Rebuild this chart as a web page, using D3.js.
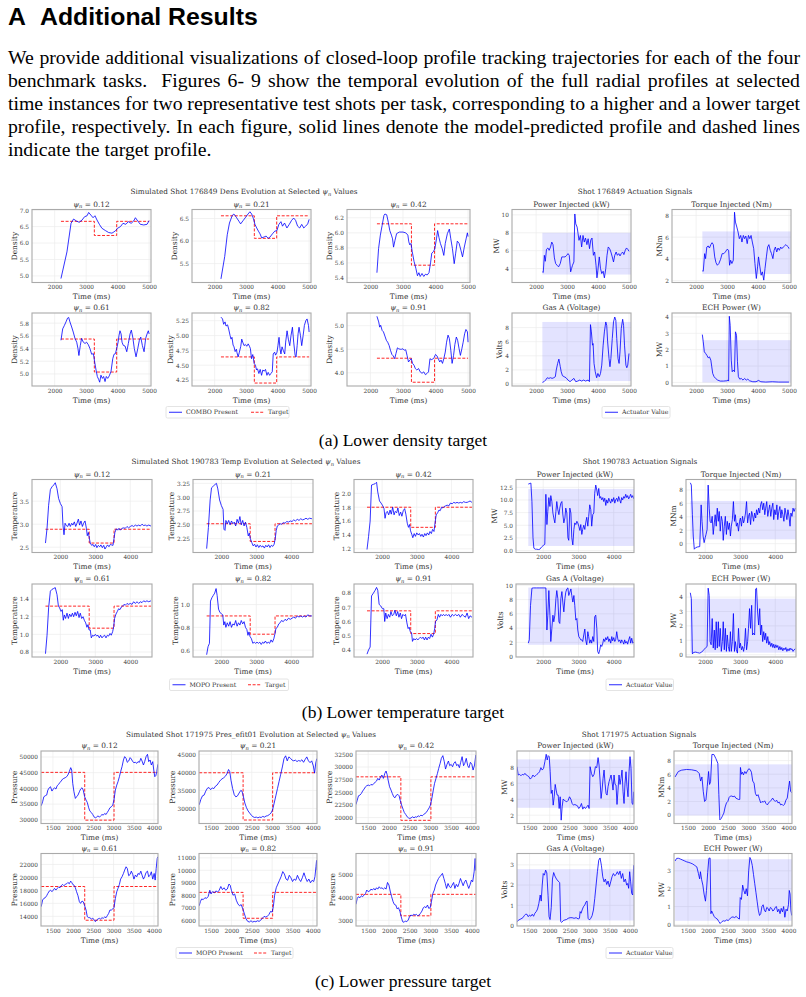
<!DOCTYPE html>
<html>
<head>
<meta charset="utf-8">
<script src="https://cdnjs.cloudflare.com/ajax/libs/d3/7.8.5/d3.min.js"></script>
<style>
  body { margin: 0; background: #fff; }
  svg { display: block; }
</style>
</head>
<body>
<script>
// ---------- TEXT ----------
const paraLines = [
  "We provide additional visualizations of closed-loop profile tracking trajectories for each of the four",
  "benchmark tasks.  Figures 6- 9 show the temporal evolution of the full radial profiles at selected",
  "time instances for two representative test shots per task, corresponding to a higher and a lower target",
  "profile, respectively. In each figure, solid lines denote the model-predicted profile and dashed lines",
  "indicate the target profile."
]
const captions = ["(a) Lower density target", "(b) Lower temperature target", "(c) Lower pressure target"]
const psiValues = ["0.12", "0.21", "0.42", "0.61", "0.82", "0.91"]
const actTitles = ["Power Injected (kW)", "Torque Injected (Nm)", "Gas A (Voltage)", "ECH Power (W)"]
const actUnits = ["MW", "MNm", "Volts", "MW"]

// ---------- (a) DENSITY, shot 176849 ----------
const aSteps = [3260, 3970]
const aDens012 = [[2200,4.92],[2390,5.73],[2520,6.60],[2600,6.73],[2690,6.67],[2780,6.63],[2870,6.70],[2950,6.80],[3030,6.83],[3080,6.93],[3150,6.85],[3220,6.77],[3280,6.83],[3345,6.70],[3420,6.57],[3500,6.45],[3610,6.38],[3715,6.32],[3820,6.30],[3930,6.37],[4000,6.45],[4090,6.50],[4170,6.60],[4260,6.57],[4340,6.65],[4430,6.60],[4510,6.67],[4565,6.77],[4640,6.67],[4720,6.57],[4830,6.55],[4935,6.57],[5000,6.68]]
const aDens021 = [[2200,5.16],[2320,5.66],[2400,6.14],[2470,6.40],[2560,6.57],[2610,6.60],[2685,6.53],[2770,6.44],[2825,6.38],[2910,6.46],[2985,6.53],[3060,6.60],[3120,6.65],[3175,6.60],[3230,6.50],[3280,6.37],[3335,6.29],[3390,6.22],[3440,6.16],[3495,6.07],[3570,6.09],[3635,6.11],[3700,6.06],[3760,6.09],[3835,6.16],[3910,6.22],[3975,6.23],[4040,6.37],[4105,6.43],[4155,6.33],[4220,6.40],[4295,6.29],[4370,6.37],[4445,6.46],[4510,6.51],[4570,6.46],[4635,6.33],[4700,6.29],[4765,6.37],[4830,6.29],[4890,6.33],[4955,6.38],[5000,6.48]]
const aDens042 = [[2200,5.47],[2250,5.79],[2305,5.97],[2360,6.10],[2415,6.23],[2445,6.25],[2500,6.24],[2550,6.14],[2595,6.03],[2645,5.97],[2680,5.92],[2710,5.81],[2755,5.90],[2805,5.99],[2890,6.01],[3000,6.01],[3085,6.00],[3150,5.97],[3180,5.88],[3210,5.84],[3245,5.86],[3285,5.75],[3340,5.62],[3395,5.53],[3445,5.43],[3490,5.47],[3530,5.42],[3585,5.46],[3640,5.42],[3690,5.45],[3745,5.44],[3800,5.47],[3850,5.61],[3885,5.73],[3935,5.75],[3980,5.79],[4030,5.92],[4065,6.03],[4105,5.94],[4150,5.86],[4205,5.79],[4255,5.70],[4300,5.86],[4365,5.99],[4425,6.05],[4470,5.92],[4520,5.79],[4575,5.59],[4620,5.73],[4670,5.89],[4725,5.86],[4780,5.77],[4830,5.68],[4885,5.81],[4940,5.92],[4980,6.00],[5000,5.95]]
const aDens061 = [[2200,5.53],[2255,5.71],[2305,5.76],[2360,5.82],[2410,5.88],[2445,5.89],[2485,5.82],[2540,5.74],[2590,5.66],[2645,5.56],[2700,5.50],[2740,5.40],[2770,5.29],[2815,5.45],[2855,5.56],[2910,5.50],[2965,5.48],[3015,5.50],[3070,5.46],[3120,5.40],[3175,5.31],[3230,5.32],[3270,5.19],[3315,5.06],[3355,4.96],[3400,4.91],[3430,4.87],[3470,4.98],[3515,4.93],[3555,4.96],[3600,4.88],[3640,4.96],[3685,4.93],[3735,4.97],[3790,5.04],[3845,5.24],[3885,5.31],[3930,5.32],[3970,5.40],[4015,5.50],[4045,5.61],[4075,5.68],[4110,5.63],[4140,5.50],[4180,5.45],[4235,5.44],[4290,5.35],[4340,5.48],[4395,5.63],[4435,5.69],[4480,5.58],[4530,5.40],[4585,5.27],[4640,5.40],[4690,5.53],[4735,5.58],[4785,5.45],[4840,5.35],[4890,5.56],[4935,5.63],[4975,5.68],[5000,5.63]]
const aDens082 = [[2200,5.31],[2250,5.28],[2285,5.19],[2330,5.23],[2360,5.16],[2410,5.18],[2445,5.11],[2490,5.00],[2520,4.94],[2550,4.97],[2585,4.84],[2615,4.81],[2650,4.73],[2690,4.77],[2710,4.71],[2745,4.64],[2785,4.72],[2830,4.82],[2860,4.94],[2890,4.89],[2935,4.83],[2975,4.85],[3020,4.82],[3065,4.86],[3105,4.82],[3135,4.78],[3170,4.61],[3210,4.68],[3255,4.53],[3295,4.50],[3330,4.42],[3360,4.44],[3405,4.36],[3445,4.43],[3490,4.33],[3530,4.42],[3575,4.40],[3615,4.43],[3660,4.33],[3700,4.38],[3745,4.33],[3785,4.36],[3830,4.39],[3860,4.69],[3905,4.72],[3935,4.67],[3980,4.72],[4010,4.83],[4045,4.97],[4075,4.78],[4105,4.69],[4140,4.81],[4180,4.75],[4225,4.69],[4255,4.89],[4300,5.08],[4340,4.94],[4385,4.83],[4425,5.00],[4470,5.14],[4510,4.89],[4555,4.67],[4585,4.64],[4620,4.83],[4650,5.03],[4680,5.14],[4725,5.00],[4765,4.83],[4810,5.00],[4850,5.17],[4895,5.25],[4935,5.28],[4980,5.17],[5000,5.06]]
const aDens091 = [[2200,5.20],[2255,5.08],[2285,4.97],[2315,5.01],[2360,4.90],[2400,4.87],[2445,4.78],[2490,4.69],[2530,4.65],[2575,4.58],[2615,4.48],[2660,4.39],[2700,4.36],[2745,4.30],[2785,4.41],[2830,4.53],[2870,4.51],[2915,4.50],[2955,4.50],[3000,4.51],[3040,4.48],[3085,4.49],[3125,4.37],[3170,4.23],[3210,4.27],[3255,4.30],[3295,4.20],[3340,4.16],[3380,4.09],[3425,4.06],[3480,4.09],[3530,4.02],[3585,3.99],[3640,4.02],[3690,3.96],[3745,3.99],[3785,4.02],[3830,4.30],[3870,4.28],[3915,4.29],[3955,4.32],[4000,4.39],[4045,4.36],[4085,4.30],[4130,4.23],[4170,4.27],[4215,4.20],[4255,4.30],[4300,4.44],[4340,4.65],[4385,4.80],[4425,4.73],[4470,4.48],[4510,4.20],[4555,4.37],[4595,4.60],[4640,4.76],[4680,4.69],[4725,4.51],[4765,4.37],[4810,4.51],[4850,4.65],[4895,4.83],[4935,4.92],[4980,4.87],[5000,4.65]]
const aTargets = [[6.66,6.23,6.66],[6.56,6.06,6.56],[6.12,5.57,6.12],[5.55,5.03,5.55],[4.64,4.20,4.64],[4.31,3.80,4.31]]

const aPower = [[2200,3.63],[2230,3.56],[2265,5.48],[2295,4.81],[2335,6.15],[2380,6.30],[2420,6.04],[2465,6.41],[2505,6.96],[2545,6.67],[2590,5.19],[2630,4.56],[2675,4.37],[2725,4.19],[2780,4.56],[2830,5.30],[2885,5.30],[2935,5.30],[2990,5.48],[3030,5.67],[3070,5.48],[3115,3.63],[3145,4.00],[3175,4.37],[3220,4.74],[3250,10.1],[3280,9.0],[3325,8.63],[3355,7.89],[3385,7.15],[3430,7.70],[3470,6.41],[3515,7.70],[3555,6.96],[3595,7.41],[3640,6.67],[3680,7.33],[3725,6.22],[3765,7.19],[3805,7.41],[3850,5.48],[3890,5.85],[3935,4.37],[3965,2.96],[3995,3.81],[4040,5.30],[4080,4.00],[4120,3.44],[4165,3.70],[4205,2.96],[4250,4.00],[4290,5.48],[4330,6.41],[4375,6.22],[4415,5.85],[4460,5.30],[4500,4.74],[4540,5.48],[4585,5.85],[4625,5.48],[4670,5.67],[4710,5.41],[4750,5.67],[4795,5.85],[4835,5.56],[4880,6.04],[4920,6.30],[4960,6.15],[5000,5.93]]
const aTorque = [[2200,2.89],[2230,2.86],[2275,4.48],[2305,4.02],[2345,5.09],[2390,5.19],[2430,5.00],[2475,5.31],[2515,5.49],[2555,5.31],[2600,4.18],[2640,3.66],[2685,3.41],[2735,3.57],[2790,3.96],[2840,4.48],[2895,4.48],[2945,4.64],[3000,4.88],[3050,4.79],[3080,3.41],[3115,3.87],[3155,3.57],[3200,3.87],[3240,8.3],[3270,7.39],[3315,6.93],[3355,6.47],[3395,5.86],[3440,6.16],[3480,5.55],[3525,6.16],[3565,5.86],[3605,6.10],[3650,5.40],[3690,6.16],[3735,5.86],[3775,6.16],[3815,5.55],[3860,4.94],[3900,3.57],[3945,2.19],[3985,3.26],[4015,4.18],[4060,3.26],[4100,2.49],[4140,2.80],[4185,2.04],[4225,3.11],[4270,4.18],[4310,5.09],[4350,5.31],[4395,4.79],[4435,4.48],[4480,4.02],[4520,4.79],[4560,5.09],[4605,4.64],[4645,5.00],[4690,4.79],[4730,5.09],[4770,4.94],[4815,5.09],[4855,5.19],[4900,5.31],[4940,5.19],[4980,5.09],[5000,4.94]]
const aGas = [[2200,0.24],[2255,0.33],[2305,0.56],[2360,0.89],[2410,0.80],[2465,0.89],[2515,0.80],[2570,0.89],[2620,1.04],[2650,1.98],[2695,2.92],[2735,3.53],[2780,2.45],[2810,1.74],[2850,1.18],[2905,1.04],[2965,0.89],[3030,0.56],[3095,0.33],[3155,0.56],[3220,0.80],[3280,0.33],[3345,0.42],[3410,0.56],[3470,0.42],[3535,0.56],[3595,0.42],[3680,0.56],[3722,0.33],[3755,8.42],[3785,7.39],[3820,5.51],[3840,5.74],[3870,2.92],[3910,1.74],[3955,0.89],[3995,1.50],[4040,1.04],[4080,1.50],[4120,2.68],[4165,5.51],[4205,7.39],[4250,8.80],[4280,8.33],[4310,5.98],[4355,3.62],[4385,2.45],[4415,3.62],[4460,6.45],[4500,8.80],[4540,9.50],[4575,9.04],[4605,6.45],[4645,3.62],[4680,2.92],[4710,4.56],[4750,7.86],[4795,9.18],[4825,8.33],[4855,5.51],[4900,2.68],[4930,2.31],[4960,2.68],[5000,4.33]]
const aEch = [[2200,2.92],[2230,2.48],[2265,1.87],[2305,1.77],[2345,1.66],[2390,1.50],[2430,1.56],[2475,1.36],[2505,0.95],[2535,0.55],[2580,0.35],[2630,0.24],[2695,0.14],[2780,0.08],[2885,0.08],[2990,0.10],[3030,0.14],[3050,0.08],[3072,4.04],[3100,3.49],[3135,1.36],[3165,0.65],[3200,0.75],[3240,0.65],[3270,3.09],[3305,2.88],[3335,1.26],[3365,0.35],[3410,0.20],[3460,0.24],[3515,0.14],[3565,0.24],[3620,0.14],[3670,0.20],[3725,0.10],[3830,0.04],[3935,0.04],[4015,0.12],[4090,0.04],[4250,0.02],[4460,0.04],[4670,0.02],[5000,0.02]]
const aBands = [[3.33,8.0],[2.6,6.53],[0.42,8.8],[0.0,2.58]]

// ---------- (b) TEMPERATURE, shot 190783 ----------
const bSteps = [2825, 3535]
const bTemp012 = [[1575,2.59],[1620,2.91],[1665,3.41],[1715,3.75],[1760,3.81],[1810,3.85],[1855,3.90],[1905,3.77],[1950,3.56],[2000,3.45],[2050,3.38],[2075,2.98],[2105,2.77],[2135,3.02],[2170,2.97],[2210,2.95],[2250,3.02],[2285,2.95],[2325,3.02],[2360,2.98],[2400,3.05],[2440,2.95],[2475,3.02],[2515,3.11],[2550,2.98],[2590,3.07],[2630,2.95],[2665,3.02],[2705,3.07],[2745,2.91],[2770,2.75],[2800,2.82],[2830,2.69],[2855,2.59],[2895,2.54],[2935,2.56],[2970,2.51],[3010,2.56],[3045,2.49],[3085,2.54],[3125,2.51],[3160,2.55],[3200,2.49],[3240,2.54],[3275,2.46],[3315,2.51],[3350,2.55],[3390,2.51],[3430,2.56],[3465,2.55],[3505,2.54],[3535,2.69],[3560,2.82],[3600,2.90],[3640,2.87],[3675,2.91],[3715,2.87],[3760,2.91],[3810,2.92],[3855,2.91],[3905,2.95],[3950,2.92],[4000,2.95],[4050,2.97],[4095,2.95],[4145,2.98],[4190,2.96],[4240,2.98],[4285,2.96],[4335,3.00],[4380,2.97],[4430,2.98],[4475,2.96],[4525,2.98],[4590,2.96]]
const bTemp021 = [[1580,2.07],[1630,2.45],[1680,2.95],[1720,3.17],[1770,3.20],[1820,3.23],[1860,3.25],[1900,3.15],[1950,2.95],[2000,2.85],[2050,2.78],[2075,2.42],[2105,2.40],[2130,2.58],[2170,2.52],[2210,2.58],[2250,2.50],[2290,2.57],[2330,2.52],[2370,2.55],[2410,2.48],[2450,2.60],[2490,2.53],[2530,2.65],[2570,2.50],[2610,2.58],[2650,2.48],[2690,2.55],[2730,2.45],[2770,2.30],[2800,2.35],[2830,2.25],[2870,2.18],[2910,2.12],[2950,2.15],[2990,2.10],[3030,2.14],[3070,2.09],[3110,2.13],[3150,2.10],[3190,2.12],[3230,2.08],[3270,2.13],[3310,2.10],[3350,2.14],[3390,2.09],[3430,2.13],[3470,2.11],[3510,2.15],[3540,2.25],[3570,2.40],[3600,2.48],[3640,2.50],[3680,2.52],[3720,2.51],[3770,2.54],[3820,2.53],[3870,2.56],[3920,2.55],[3970,2.57],[4020,2.56],[4070,2.59],[4120,2.57],[4170,2.60],[4220,2.58],[4270,2.61],[4320,2.59],[4370,2.60],[4420,2.62],[4470,2.60],[4520,2.62],[4590,2.61]]
const bTemp042 = [[1565,1.19],[1610,1.38],[1655,1.60],[1695,2.12],[1750,2.13],[1800,2.14],[1840,2.16],[1875,2.02],[1925,1.89],[1970,1.86],[2020,1.82],[2055,1.78],[2085,1.64],[2115,1.72],[2150,1.74],[2190,1.69],[2230,1.76],[2265,1.70],[2305,1.80],[2345,1.69],[2380,1.74],[2420,1.72],[2455,1.79],[2495,1.68],[2535,1.73],[2570,1.67],[2610,1.75],[2650,1.78],[2685,1.70],[2725,1.57],[2760,1.51],[2790,1.55],[2820,1.46],[2855,1.41],[2885,1.36],[2925,1.42],[2960,1.38],[3000,1.43],[3040,1.40],[3075,1.42],[3115,1.38],[3150,1.41],[3190,1.37],[3230,1.42],[3265,1.39],[3305,1.43],[3345,1.40],[3380,1.45],[3420,1.42],[3455,1.48],[3495,1.45],[3525,1.57],[3560,1.69],[3600,1.72],[3640,1.76],[3675,1.75],[3715,1.80],[3750,1.79],[3790,1.81],[3830,1.82],[3875,1.83],[3925,1.82],[3970,1.86],[4020,1.85],[4065,1.87],[4115,1.86],[4160,1.87],[4210,1.86],[4255,1.87],[4305,1.86],[4350,1.88],[4400,1.87],[4450,1.87],[4495,1.88],[4535,1.89],[4590,1.87]]
const bTemp061 = [[1575,0.78],[1620,0.99],[1665,1.30],[1715,1.49],[1760,1.51],[1810,1.52],[1855,1.53],[1905,1.45],[1945,1.32],[1980,1.30],[2020,1.26],[2055,1.28],[2085,1.16],[2115,1.22],[2150,1.18],[2190,1.24],[2230,1.18],[2265,1.23],[2305,1.20],[2345,1.24],[2380,1.20],[2420,1.25],[2455,1.21],[2495,1.26],[2535,1.19],[2570,1.24],[2610,1.18],[2650,1.20],[2685,1.16],[2725,1.13],[2760,1.08],[2790,1.11],[2820,1.05],[2855,1.05],[2885,0.96],[2925,0.99],[2960,0.98],[3000,1.00],[3040,0.98],[3075,0.99],[3115,0.96],[3150,0.99],[3190,0.96],[3230,0.98],[3265,0.99],[3305,0.96],[3345,0.99],[3380,0.98],[3420,1.01],[3455,0.99],[3495,1.03],[3525,1.09],[3550,1.18],[3590,1.23],[3630,1.26],[3665,1.29],[3705,1.28],[3745,1.31],[3780,1.32],[3820,1.34],[3855,1.33],[3905,1.35],[3950,1.34],[4000,1.35],[4050,1.34],[4095,1.37],[4145,1.35],[4190,1.37],[4240,1.35],[4285,1.37],[4335,1.36],[4380,1.38],[4430,1.37],[4475,1.38],[4525,1.37],[4590,1.38]]
const bTemp082 = [[1580,0.56],[1620,0.63],[1660,0.66],[1690,1.03],[1730,1.06],[1770,1.08],[1810,1.10],[1850,1.14],[1880,1.08],[1920,0.96],[1960,0.93],[2000,0.92],[2040,0.91],[2070,0.82],[2100,0.85],[2130,0.80],[2170,0.84],[2210,0.81],[2250,0.85],[2290,0.80],[2330,0.83],[2370,0.82],[2410,0.86],[2450,0.81],[2490,0.84],[2530,0.82],[2570,0.86],[2610,0.83],[2650,0.85],[2690,0.80],[2730,0.78],[2760,0.73],[2790,0.76],[2820,0.72],[2860,0.70],[2900,0.66],[2940,0.67],[2980,0.66],[3020,0.67],[3060,0.66],[3100,0.67],[3140,0.65],[3180,0.67],[3220,0.66],[3260,0.68],[3300,0.66],[3340,0.67],[3380,0.66],[3420,0.69],[3460,0.67],[3500,0.70],[3530,0.74],[3560,0.79],[3600,0.80],[3640,0.83],[3680,0.84],[3720,0.86],[3770,0.85],[3820,0.87],[3870,0.86],[3920,0.88],[3970,0.87],[4020,0.88],[4070,0.89],[4120,0.88],[4170,0.90],[4220,0.89],[4270,0.90],[4320,0.89],[4370,0.90],[4420,0.89],[4470,0.91],[4520,0.90],[4590,0.90]]
const bTemp091 = [[1565,0.37],[1610,0.40],[1655,0.42],[1695,0.78],[1750,0.80],[1800,0.82],[1840,0.84],[1875,0.82],[1915,0.72],[1960,0.71],[2010,0.69],[2050,0.69],[2075,0.60],[2105,0.66],[2145,0.62],[2180,0.65],[2220,0.63],[2255,0.67],[2295,0.64],[2335,0.65],[2370,0.68],[2410,0.64],[2450,0.67],[2485,0.63],[2525,0.66],[2560,0.62],[2600,0.65],[2640,0.64],[2675,0.65],[2715,0.59],[2750,0.55],[2780,0.56],[2810,0.53],[2850,0.52],[2875,0.46],[2915,0.48],[2950,0.47],[2990,0.48],[3030,0.47],[3065,0.48],[3105,0.49],[3145,0.48],[3180,0.49],[3220,0.47],[3255,0.49],[3295,0.47],[3335,0.49],[3370,0.48],[3410,0.51],[3450,0.49],[3485,0.51],[3515,0.55],[3540,0.60],[3580,0.61],[3620,0.65],[3655,0.63],[3695,0.65],[3735,0.64],[3770,0.65],[3810,0.64],[3845,0.65],[3885,0.64],[3925,0.65],[3970,0.63],[4020,0.65],[4065,0.64],[4115,0.65],[4160,0.64],[4210,0.65],[4255,0.63],[4305,0.65],[4350,0.64],[4400,0.63],[4450,0.66],[4495,0.62],[4535,0.64],[4590,0.63]]
const bTargets = [[2.89,2.59,2.89],[2.52,2.20,2.52],[1.80,1.51,1.80],[1.32,1.07,1.32],[0.90,0.74,0.90],[0.675,0.515,0.675]]

const bPower = [[1576,13.15],[1625,13.28],[1650,13.35],[1680,9.7],[1710,2.54],[1735,0.46],[1775,0.26],[1810,0.26],[1870,0.20],[1905,0.26],[1955,0.72],[2000,0.98],[2045,1.24],[2075,11.13],[2105,5.14],[2130,7.75],[2160,10.48],[2190,8.72],[2215,10.87],[2245,9.7],[2275,7.42],[2300,6.45],[2330,5.47],[2360,7.75],[2385,9.7],[2415,8.07],[2445,7.10],[2470,8.40],[2500,9.38],[2530,9.70],[2555,7.23],[2585,5.47],[2615,6.45],[2640,8.40],[2670,7.42],[2700,2.54],[2725,2.02],[2755,8.40],[2785,7.42],[2810,2.54],[2840,1.11],[2870,4.17],[2895,5.47],[2925,5.14],[2955,5.79],[2980,5.47],[3010,4.82],[3040,3.97],[3065,5.14],[3095,3.19],[3120,4.17],[3150,5.01],[3180,4.17],[3205,5.47],[3235,6.58],[3265,4.82],[3290,6.77],[3320,9.05],[3350,8.07],[3375,4.82],[3405,7.10],[3435,7.42],[3460,11.33],[3490,12.96],[3520,11.98],[3545,10.87],[3575,12.30],[3605,10.35],[3630,10.68],[3660,10.03],[3690,10.48],[3715,9.70],[3745,10.35],[3775,8.92],[3800,10.03],[3830,9.38],[3860,10.35],[3885,9.83],[3915,9.38],[3945,10.22],[3970,9.70],[4000,10.48],[4030,9.38],[4055,10.03],[4085,10.35],[4115,9.70],[4140,10.68],[4170,10.03],[4200,9.38],[4225,10.48],[4255,10.03],[4285,10.68],[4310,10.35],[4340,11.13],[4370,10.48],[4395,10.87],[4425,10.22],[4455,10.68],[4480,11.13],[4510,10.48],[4540,10.87],[4570,10.22]]
const bTorque = [[1576,9.07],[1605,8.73],[1635,4.31],[1660,1.13],[1690,-0.83],[1730,-0.59],[1785,-0.49],[1845,-0.44],[1885,5.78],[1910,3.33],[1940,1.13],[1970,0.15],[2000,0.88],[2025,1.37],[2055,2.11],[2085,8.73],[2115,5.29],[2140,3.33],[2170,3.09],[2200,4.07],[2230,1.37],[2260,3.09],[2285,4.31],[2315,2.60],[2345,5.29],[2375,3.33],[2400,4.80],[2430,1.86],[2460,4.07],[2490,3.33],[2515,0.49],[2545,2.60],[2575,4.07],[2605,1.37],[2630,3.33],[2660,2.11],[2690,3.09],[2720,1.13],[2745,2.60],[2775,3.58],[2805,6.27],[2835,3.33],[2860,4.31],[2890,2.60],[2920,3.09],[2950,1.86],[2980,3.33],[3005,3.82],[3035,2.60],[3065,4.07],[3095,3.09],[3120,3.58],[3150,4.56],[3180,6.27],[3210,3.09],[3235,4.07],[3265,4.56],[3295,2.84],[3325,4.80],[3350,4.31],[3380,3.33],[3410,4.56],[3440,3.82],[3465,5.05],[3495,4.31],[3525,5.29],[3555,4.56],[3580,5.78],[3610,6.27],[3640,5.05],[3670,6.03],[3700,4.31],[3725,5.29],[3755,6.27],[3785,4.07],[3815,5.05],[3840,5.78],[3870,4.07],[3900,5.29],[3930,6.03],[3955,3.58],[3985,5.05],[4015,4.31],[4045,5.78],[4070,3.58],[4100,4.80],[4130,5.54],[4160,3.82],[4185,5.05],[4215,4.31],[4245,3.33],[4275,5.29],[4300,4.56],[4330,3.58],[4360,5.05],[4390,4.07],[4420,2.60],[4445,4.56],[4475,4.07],[4505,5.29],[4535,4.80],[4570,5.29]]
const bGas = [[1576,1.89],[1605,2.35],[1640,7.19],[1680,9.59],[1720,9.63],[1810,9.63],[1905,9.63],[2000,9.63],[2075,9.63],[2105,3.73],[2130,5.81],[2160,9.26],[2190,5.81],[2215,2.12],[2245,3.96],[2275,5.81],[2300,4.88],[2330,5.81],[2360,8.11],[2385,9.26],[2415,8.11],[2445,4.88],[2470,4.65],[2500,8.11],[2530,9.12],[2555,7.65],[2585,6.27],[2615,8.11],[2640,9.03],[2670,9.49],[2700,9.63],[2725,8.57],[2755,9.03],[2785,9.49],[2810,8.57],[2840,7.65],[2870,8.57],[2895,7.19],[2925,5.12],[2955,5.35],[2980,3.73],[3010,2.81],[3040,2.58],[3065,2.35],[3095,2.35],[3120,2.12],[3150,3.04],[3180,3.87],[3205,2.35],[3235,1.66],[3265,3.50],[3290,2.81],[3320,1.89],[3350,2.35],[3375,1.89],[3405,2.81],[3435,2.12],[3460,5.58],[3490,5.81],[3520,3.96],[3545,0.74],[3575,0.41],[3605,0.97],[3630,1.66],[3660,1.43],[3690,1.89],[3715,2.49],[3745,2.12],[3775,2.67],[3800,2.35],[3830,2.81],[3860,2.12],[3885,2.49],[3915,1.89],[3945,2.81],[3970,2.21],[4000,2.67],[4030,2.12],[4055,2.35],[4085,3.50],[4115,2.49],[4140,2.12],[4170,2.35],[4200,1.89],[4225,2.35],[4255,2.12],[4285,1.75],[4310,2.35],[4340,1.89],[4370,2.12],[4395,1.75],[4425,2.35],[4455,2.81],[4480,1.89],[4510,2.58],[4540,1.89],[4570,2.03]]
const bEch = [[1576,4.30],[1605,3.89],[1635,0.05],[1670,0.16],[1730,0.18],[1785,0.14],[1845,0.11],[1900,0.18],[1960,0.34],[2020,0.50],[2055,0.57],[2085,4.62],[2115,4.11],[2140,0.91],[2170,0.69],[2200,2.51],[2230,0.46],[2260,1.71],[2285,0.34],[2315,2.29],[2345,0.46],[2375,2.29],[2400,0.57],[2430,1.83],[2460,0.23],[2490,0.91],[2515,2.29],[2545,0.34],[2575,1.83],[2605,0.23],[2630,1.37],[2660,0.57],[2690,0.23],[2720,1.60],[2745,0.23],[2775,0.91],[2805,2.86],[2835,0.23],[2860,0.91],[2890,0.34],[2920,0.11],[2950,1.83],[2980,0.46],[3005,0.80],[3035,0.34],[3065,0.57],[3095,0.23],[3120,0.57],[3150,1.83],[3180,0.34],[3210,0.91],[3235,1.83],[3265,3.20],[3295,1.83],[3325,3.43],[3350,1.37],[3380,1.49],[3410,1.37],[3440,4.57],[3465,4.62],[3495,2.97],[3525,2.06],[3555,3.20],[3580,1.37],[3610,2.06],[3640,0.91],[3670,1.60],[3700,1.03],[3725,1.49],[3755,0.80],[3785,1.26],[3815,0.69],[3840,0.91],[3870,0.57],[3900,0.80],[3930,0.50],[3955,0.73],[3985,0.46],[4015,0.69],[4045,0.50],[4070,0.64],[4100,0.34],[4130,0.57],[4160,0.34],[4185,0.50],[4215,0.27],[4245,0.46],[4275,0.34],[4300,0.50],[4330,0.23],[4360,0.41],[4390,0.27],[4420,0.46],[4445,0.34],[4475,0.41],[4505,0.23],[4535,0.34],[4570,0.41]]
const bBands = [[0.9,12.2],[0.64,6.37],[1.66,9.68],[0.14,3.89]]

// ---------- (c) PRESSURE, shot 171975 ----------
const cSteps = [2287, 3012]
const cPres012 = [[1210,34470],[1245,35740],[1275,37340],[1310,37660],[1345,37870],[1375,39470],[1410,40210],[1440,40530],[1475,39150],[1510,39790],[1540,40210],[1575,39790],[1605,40850],[1640,41280],[1675,41910],[1705,42340],[1740,42980],[1770,43190],[1805,43400],[1840,43720],[1870,44260],[1905,45320],[1940,46600],[1965,45850],[1990,41600],[2020,38930],[2055,36810],[2085,37340],[2120,37870],[2155,38930],[2185,39790],[2220,40210],[2250,39470],[2285,37340],[2320,36270],[2350,35530],[2385,33830],[2415,32760],[2450,32340],[2485,31700],[2515,30960],[2550,30640],[2580,30850],[2615,31270],[2650,30850],[2680,31270],[2715,31700],[2745,31490],[2780,32020],[2815,31700],[2845,32340],[2880,33080],[2910,33830],[2945,34150],[2980,34680],[3010,36270],[3045,39470],[3080,41060],[3110,42130],[3145,43720],[3175,45320],[3210,46910],[3245,49040],[3275,50110],[3310,49570],[3340,48300],[3375,48720],[3410,49790],[3440,49360],[3475,48510],[3505,48190],[3540,48300],[3575,47980],[3605,48510],[3640,48300],[3675,49570],[3705,48720],[3740,47450],[3770,48510],[3805,50110],[3840,50850],[3870,48510],[3905,49040],[3935,47450],[3970,48510],[3995,45850],[4020,43720],[4045,44050],[4070,45320],[4095,47660]]
const cPres021 = [[1210,31000],[1250,32500],[1290,33500],[1330,33700],[1370,34800],[1410,35600],[1450,35800],[1490,35200],[1530,35700],[1570,35500],[1610,36200],[1650,36500],[1690,37200],[1730,37800],[1770,38200],[1810,38500],[1850,38900],[1890,39600],[1930,40800],[1960,40200],[1990,37800],[2030,35500],[2070,33800],[2110,33200],[2150,33500],[2190,34300],[2230,35000],[2260,34800],[2290,33500],[2330,31500],[2370,30200],[2410,29300],[2450,28700],[2490,28100],[2530,27700],[2570,27500],[2610,27600],[2650,27400],[2690,27600],[2730,27500],[2770,27800],[2810,27600],[2850,27900],[2890,28000],[2930,28300],[2970,28700],[3010,29600],[3050,31500],[3090,33500],[3130,35500],[3170,37500],[3210,39500],[3250,41500],[3290,43800],[3330,44600],[3370,43200],[3410,44300],[3450,43900],[3490,43400],[3530,43200],[3570,43400],[3610,43000],[3650,43300],[3690,43100],[3730,43500],[3770,42800],[3810,43600],[3850,44300],[3890,43200],[3930,42700],[3970,43200],[4010,41800],[4040,39800],[4070,42600],[4095,43800]]
const cPres042 = [[1205,22580],[1235,23440],[1265,24300],[1300,24430],[1335,24770],[1365,25230],[1400,25630],[1435,26090],[1465,26290],[1500,26420],[1535,26290],[1565,26550],[1600,26420],[1635,26750],[1665,26950],[1700,27210],[1730,27740],[1765,27410],[1800,28070],[1830,28400],[1865,27740],[1900,28730],[1930,29200],[1955,28530],[1980,27410],[2015,26090],[2050,25430],[2080,24770],[2115,24100],[2145,23910],[2180,24430],[2215,24570],[2245,24300],[2270,23440],[2305,22450],[2340,21660],[2370,21000],[2405,20600],[2440,20140],[2470,19940],[2505,19810],[2535,19940],[2570,20140],[2605,19940],[2635,20140],[2670,20070],[2705,20340],[2735,20210],[2770,20470],[2805,20340],[2835,20600],[2870,20800],[2900,21000],[2935,21460],[2970,21920],[3000,22450],[3035,23770],[3070,25430],[3100,26750],[3135,27740],[3170,28730],[3200,29720],[3235,30720],[3265,31710],[3300,32240],[3335,31050],[3365,29590],[3400,30520],[3435,31180],[3465,30250],[3500,30520],[3535,30050],[3565,30720],[3600,31050],[3635,30250],[3665,30520],[3700,29860],[3730,30920],[3765,32040],[3800,30250],[3830,30720],[3865,31710],[3900,30250],[3930,29860],[3965,30920],[4000,30520],[4030,29390],[4065,30380],[4095,32370]]
const cPres061 = [[1210,15490],[1245,16510],[1275,16770],[1310,16870],[1345,17180],[1375,17540],[1410,17900],[1440,18050],[1475,17800],[1510,18050],[1540,18310],[1575,18050],[1605,18310],[1640,18510],[1675,18410],[1705,18720],[1740,18920],[1770,18720],[1805,18920],[1840,19020],[1870,19230],[1905,19020],[1940,19430],[1965,19230],[1990,18920],[2020,18820],[2055,18410],[2085,17800],[2120,17180],[2155,16250],[2185,16000],[2220,16360],[2250,16250],[2285,15640],[2320,14970],[2350,13950],[2385,13790],[2415,13790],[2450,13590],[2485,13690],[2515,13540],[2550,13180],[2580,13430],[2615,13590],[2650,13690],[2680,13590],[2715,13790],[2745,13690],[2780,13900],[2815,13790],[2845,14100],[2880,14460],[2910,14970],[2945,14970],[2980,15130],[3010,15330],[3045,16770],[3080,17800],[3110,18310],[3145,18920],[3175,19740],[3210,20100],[3245,20610],[3275,21130],[3310,21640],[3340,21380],[3375,20260],[3410,20460],[3440,20970],[3475,20460],[3505,19740],[3540,20360],[3575,20100],[3605,20610],[3640,20460],[3675,20970],[3705,20360],[3740,19740],[3770,20100],[3805,20770],[3840,20970],[3870,20100],[3905,20360],[3935,20870],[3970,19740],[4005,20610],[4030,19590],[4055,21380],[4080,22920],[4095,23180]]
const cPres082 = [[1210,7150],[1240,7500],[1270,7700],[1310,7650],[1350,7800],[1390,7750],[1430,7900],[1470,8400],[1500,8100],[1540,8300],[1580,8200],[1620,8350],[1660,8250],[1700,8400],[1740,8700],[1780,8450],[1820,8600],[1860,8400],[1900,8500],[1940,8900],[1970,8800],[2000,8400],[2040,8000],[2080,8100],[2120,7600],[2160,7300],[2200,7150],[2240,7250],[2280,6900],[2320,6500],[2360,6100],[2400,5900],[2440,5850],[2480,5950],[2520,5850],[2560,5900],[2600,5870],[2640,5950],[2680,5900],[2720,6000],[2760,6150],[2800,6300],[2840,6250],[2880,6300],[2920,6450],[2960,6700],[3000,6650],[3030,7100],[3060,8000],[3100,8600],[3140,8900],[3180,9200],[3220,9500],[3260,9900],[3300,9700],[3340,9300],[3380,9200],[3420,9600],[3460,9400],[3500,9100],[3540,9300],[3580,9200],[3620,9600],[3660,9300],[3700,9100],[3740,9400],[3780,9800],[3820,9400],[3860,9100],[3900,9300],[3940,9000],[3980,9200],[4020,9100],[4050,9500],[4075,10300],[4090,10800],[4100,10000]]
const cPres091 = [[1205,3710],[1235,3970],[1265,4045],[1300,4000],[1335,4090],[1365,4045],[1400,4120],[1435,4190],[1465,4340],[1500,4265],[1535,4295],[1565,4380],[1600,4340],[1635,4410],[1665,4340],[1700,4440],[1730,4380],[1765,4485],[1800,4410],[1830,4440],[1865,4380],[1900,4440],[1930,4380],[1965,4675],[2000,4560],[2030,4295],[2065,4045],[2100,3825],[2130,3705],[2165,3675],[2200,3500],[2230,3560],[2265,3385],[2295,3160],[2330,2940],[2365,2915],[2395,2970],[2430,2940],[2465,3015],[2495,3160],[2530,3235],[2560,3205],[2595,3265],[2630,3235],[2660,3265],[2695,3205],[2730,3235],[2760,3310],[2795,3410],[2830,3560],[2860,3600],[2895,3560],[2930,3675],[2960,3530],[2995,3560],[3025,3825],[3060,4190],[3095,4340],[3125,4560],[3160,4705],[3195,4850],[3225,4925],[3260,5000],[3290,5075],[3325,4850],[3360,4630],[3390,4410],[3425,4630],[3460,4485],[3490,4440],[3525,4560],[3560,4675],[3590,4410],[3625,4590],[3660,4485],[3690,4630],[3725,4850],[3755,4705],[3790,4530],[3825,4705],[3855,4780],[3890,4590],[3925,4410],[3955,4560],[3990,4780],[4020,4705],[4055,5145],[4080,5735],[4092,5200]]
const cTargets = [[45100,29900,45100],[39900,26800,39900],[28050,19450,28050],[18600,13400,18600],[8230,6150,8230],[4150,3200,4150]]

const cPower = [[1187,8.08],[1218,7.04],[1252,7.12],[1285,6.95],[1318,7.12],[1351,7.04],[1384,7.25],[1417,7.04],[1450,6.95],[1483,6.83],[1517,6.53],[1550,6.70],[1583,7.04],[1616,6.83],[1649,6.95],[1682,7.12],[1715,7.25],[1748,7.45],[1782,7.96],[1815,7.66],[1848,7.87],[1881,8.71],[1914,9.64],[1939,8.92],[1964,9.47],[1989,9.34],[2013,7.45],[2038,4.73],[2063,5.15],[2088,3.26],[2113,4.31],[2138,5.86],[2162,5.15],[2187,4.52],[2212,4.52],[2237,2.84],[2262,4.31],[2287,1.38],[2311,3.05],[2336,4.02],[2361,3.89],[2394,3.77],[2427,3.68],[2460,3.85],[2494,4.31],[2527,4.02],[2560,3.47],[2593,3.26],[2626,3.35],[2659,3.26],[2692,3.18],[2725,2.84],[2759,3.05],[2792,3.47],[2825,2.76],[2858,3.05],[2891,2.84],[2924,3.05],[2957,3.26],[2982,2.84],[3007,8.08],[3040,7.25],[3073,6.83],[3106,7.12],[3139,8.08],[3172,7.96],[3206,9.22],[3230,8.29],[3255,6.41],[3280,4.10],[3305,5.15],[3330,6.62],[3355,7.66],[3379,5.99],[3404,4.73],[3429,4.52],[3454,5.57],[3479,6.20],[3504,6.62],[3529,7.04],[3553,6.20],[3578,5.15],[3603,7.04],[3628,5.86],[3653,5.78],[3677,3.35],[3702,5.15],[3727,7.04],[3752,5.86],[3777,6.62],[3802,7.66],[3827,4.94],[3852,3.47],[3876,5.99],[3901,7.45],[3926,5.57],[3951,4.31],[3976,7.45],[4001,9.34],[4026,7.87],[4051,3.47],[4076,3.35],[4092,4.94]]
const cTorque = [[1178,5.6],[1260,6.4],[1343,6.6],[1467,6.7],[1591,6.65],[1715,6.5],[1781,6.1],[1814,5.0],[1847,5.6],[1880,3.5],[1913,2.0],[1946,2.2],[1979,4.2],[2012,6.4],[2037,4.5],[2062,4.9],[2095,8.9],[2144,8.9],[2194,8.3],[2243,7.6],[2268,3.0],[2293,-0.7],[2326,-0.5],[2359,-0.1],[2392,0.3],[2425,1.2],[2458,1.8],[2491,2.0],[2524,2.6],[2557,2.8],[2590,2.8],[2623,2.7],[2656,2.8],[2690,2.5],[2723,2.4],[2756,2.3],[2789,2.3],[2805,7.0],[2830,6.0],[2855,6.3],[2880,5.9],[2912,6.4],[2945,6.1],[2979,6.5],[3012,6.8],[3045,6.7],[3078,6.3],[3111,5.0],[3144,4.7],[3177,3.2],[3210,2.8],[3243,3.0],[3276,2.4],[3309,1.8],[3342,2.0],[3375,1.9],[3408,2.1],[3441,1.7],[3474,1.5],[3507,1.8],[3540,2.0],[3573,2.2],[3606,2.5],[3639,2.2],[3672,2.0],[3705,2.2],[3738,1.8],[3772,1.9],[3805,1.5],[3838,1.6],[3871,1.4],[3904,1.6],[3937,2.2],[3970,2.5],[4003,4.0],[4028,5.0],[4053,3.5],[4077,3.3]]
const cGas = [[1187,0.20],[1235,0.28],[1285,0.33],[1334,0.39],[1368,0.49],[1400,0.56],[1434,0.56],[1467,0.44],[1500,0.52],[1533,0.46],[1566,0.56],[1599,0.46],[1632,0.61],[1666,0.69],[1699,0.82],[1732,1.10],[1765,1.51],[1790,1.21],[1815,2.00],[1840,2.57],[1870,2.49],[1900,2.74],[1930,2.60],[1960,1.50],[1985,0.44],[2010,0.30],[2040,0.90],[2070,2.30],[2100,2.62],[2130,2.45],[2170,2.30],[2210,2.20],[2250,2.12],[2275,0.20],[2300,0.16],[2340,0.25],[2380,0.28],[2420,0.30],[2460,0.36],[2510,0.39],[2560,0.39],[2609,0.36],[2659,0.39],[2709,0.33],[2742,0.36],[2759,0.69],[2783,0.61],[2808,0.77],[2841,0.93],[2875,1.02],[2908,1.18],[2932,1.21],[2957,0.36],[2990,0.28],[3024,0.36],[3057,0.49],[3090,0.77],[3123,1.34],[3156,2.00],[3189,2.66],[3222,3.23],[3255,3.34],[3288,2.98],[3322,2.41],[3355,2.16],[3388,2.30],[3421,2.03],[3454,2.20],[3487,1.92],[3520,2.16],[3553,2.41],[3587,2.57],[3620,2.46],[3653,2.52],[3686,2.66],[3719,2.52],[3752,2.69],[3785,2.33],[3818,2.57],[3851,2.16],[3885,2.30],[3918,2.00],[3943,2.08],[3967,1.84],[3992,2.66],[4017,2.16],[4042,1.59],[4067,1.51],[4092,2.98]]
const cEch = [[1178,3.55],[1220,3.70],[1270,3.70],[1320,3.65],[1370,3.60],[1420,3.55],[1470,3.50],[1520,3.47],[1570,3.43],[1620,3.38],[1670,3.30],[1720,3.22],[1760,2.85],[1790,2.55],[1810,2.95],[1840,2.50],[1870,2.20],[1900,1.70],[1935,1.30],[1960,1.90],[1990,2.90],[2020,3.70],[2050,3.72],[2070,0.60],[2090,0.75],[2120,0.60],[2150,0.45],[2190,0.35],[2230,0.30],[2270,0.15],[2300,0.05],[2340,0.15],[2380,0.20],[2420,0.18],[2460,0.25],[2500,0.22],[2540,0.30],[2580,0.40],[2620,0.42],[2660,0.38],[2700,0.45],[2740,0.35],[2780,0.30],[2800,1.50],[2830,1.40],[2860,2.20],[2890,1.90],[2920,1.70],[2950,2.00],[2980,1.60],[3010,3.00],[3040,3.75],[3070,3.60],[3100,3.30],[3130,2.80],[3160,2.30],[3190,1.80],[3220,1.30],[3250,0.80],[3280,0.50],[3310,0.60],[3340,1.00],[3370,1.10],[3400,0.80],[3430,0.70],[3460,0.95],[3490,0.90],[3520,0.75],[3550,0.95],[3580,0.90],[3610,0.75],[3640,0.80],[3670,0.95],[3700,1.00],[3730,0.70],[3760,0.85],[3790,0.60],[3820,0.90],[3850,0.70],[3880,1.00],[3910,0.40],[3940,0.85],[3970,0.75],[4000,1.10],[4020,1.90],[4040,1.70],[4060,0.80],[4080,0.50]]
const cBands = [[2.93,9.0],[-0.05,7.45],[0.25,2.79],[0.2,3.65]]

// ---------- STYLE ----------
const SERIF = "'DejaVu Serif', serif"
const TIMES = "'Liberation Serif', 'Times New Roman', serif"
const SANS = "'Liberation Sans', Arial, sans-serif"
const TXT = "#333"
const GRID = "#ececec"
const EDGE = "#aaaaaa"
const TICK_FS = 5.8, LABEL_FS = 7.4, TITLE_FS = 7.4

const svg = d3.select("body").append("svg")
  .attr("width", 806).attr("height", 997)

// heading + paragraph
svg.append("text").attr("x", 8).attr("y", 25)
  .attr("font-family", SANS).attr("font-weight", "bold").attr("font-size", 24.8).text("A")
svg.append("text").attr("x", 40).attr("y", 25)
  .attr("font-family", SANS).attr("font-weight", "bold").attr("font-size", 24.8).text("Additional Results")

// justified paragraph: size the font so a full line nearly fills the measure,
// then spread what is left over the word gaps
const para = svg.selectAll(".para").data(paraLines).join("text")
  .attr("x", 8).attr("y", (d, i) => 64 + i * 23)
  .attr("font-family", TIMES).attr("font-size", 18).attr("fill", "#000")
  .attr("xml:space", "preserve")
  .text(d => d)
const probe = para.nodes()[0].getComputedTextLength()
const paraFs = 18 * 784 / probe
para.attr("font-size", paraFs)
  .each(function (d, i) {
    if (i === paraLines.length - 1) return
    const natural = this.getComputedTextLength()
    const gaps = (d.match(/ /g) || []).length
    d3.select(this).attr("word-spacing", (792 - natural) / gaps)
  })

svg.selectAll(".cap").data(captions).join("text")
  .attr("x", 403).attr("y", (d, i) => [446, 718, 987][i])
  .attr("text-anchor", "middle").attr("font-family", TIMES).attr("font-size", 17.5)
  .text(d => d)

// psi_n helper
function psiText(sel, before, after) {
  sel.append("tspan").text(before)
  sel.append("tspan").attr("font-style", "italic").text("\u03c8")
  sel.append("tspan").attr("font-style", "italic").attr("font-size", "70%").attr("dy", 1.8).text("n")
  sel.append("tspan").attr("dy", -1.8).text(after)
}

let clipN = 0
function drawPanel(box, p) {
  const x = d3.scaleLinear().domain(p.xd).range([box.x, box.x + box.w])
  const y = d3.scaleLinear().domain(p.yd).range([box.y + box.h, box.y])
  const g = svg.append("g")
  const id = "clip" + (clipN++)
  g.append("clipPath").attr("id", id).append("rect")
    .attr("x", box.x).attr("y", box.y).attr("width", box.w).attr("height", box.h)

  // grid
  g.append("g").selectAll("line").data(p.xt).join("line")
    .attr("x1", d => x(d)).attr("x2", d => x(d)).attr("y1", box.y).attr("y2", box.y + box.h)
    .attr("stroke", GRID).attr("stroke-width", 0.7)
  g.append("g").selectAll("line").data(p.yt).join("line")
    .attr("y1", d => y(d)).attr("y2", d => y(d)).attr("x1", box.x).attr("x2", box.x + box.w)
    .attr("stroke", GRID).attr("stroke-width", 0.7)

  const body = g.append("g").attr("clip-path", `url(#${id})`)
  const t0 = p.data[0][0], t1 = p.data[p.data.length - 1][0]

  if (p.band) {
    body.append("rect")
      .attr("x", x(t0)).attr("width", box.x + box.w - x(t0))
      .attr("y", y(p.band[1])).attr("height", y(p.band[0]) - y(p.band[1]))
      .attr("fill", "#0000ff").attr("fill-opacity", 0.11)
  }
  if (p.tgt) {
    const s = p.steps, L = p.tgt
    const pts = [[t0, L[0]], [s[0], L[0]], [s[0], L[1]], [s[1], L[1]], [s[1], L[2]], [t1, L[2]]]
    body.append("path").datum(pts)
      .attr("fill", "none").attr("stroke", "#ff0000").attr("stroke-opacity", 0.85)
      .attr("stroke-width", 1).attr("stroke-dasharray", "3,1.6")
      .attr("d", d3.line().x(d => x(d[0])).y(d => y(d[1])))
  }
  body.append("path").datum(p.data)
    .attr("fill", "none").attr("stroke", "#0000ff").attr("stroke-opacity", 0.8)
    .attr("stroke-width", 1).attr("stroke-linejoin", "round")
    .attr("d", d3.line().x(d => x(d[0])).y(d => y(d[1])))

  g.append("rect").attr("x", box.x).attr("y", box.y).attr("width", box.w).attr("height", box.h)
    .attr("fill", "none").attr("stroke", EDGE).attr("stroke-width", 1.1)

  const xa = g.append("g").attr("transform", `translate(0,${box.y + box.h})`)
    .call(d3.axisBottom(x).tickValues(p.xt).tickSize(0).tickPadding(2.5).tickFormat(d3.format("d")))
  const ya = g.append("g").attr("transform", `translate(${box.x},0)`)
    .call(d3.axisLeft(y).tickValues(p.yt).tickSize(0).tickPadding(3).tickFormat(d3.format(p.fmt)))
  for (const a of [xa, ya]) {
    a.select(".domain").remove()
    a.attr("font-family", SERIF).attr("font-size", TICK_FS)
    a.selectAll("text").attr("fill", "#444")
  }

  g.append("text").attr("x", box.x + box.w / 2).attr("y", box.y + box.h + 16.5)
    .attr("text-anchor", "middle").attr("font-family", SERIF).attr("font-size", LABEL_FS).attr("fill", TXT)
    .text("Time (ms)")
  const bb = ya.node().getBBox()
  g.append("text")
    .attr("transform", `translate(${box.x + bb.x - 3},${box.y + box.h / 2}) rotate(-90)`)
    .attr("text-anchor", "middle").attr("font-family", SERIF).attr("font-size", LABEL_FS).attr("fill", TXT)
    .text(p.ylabel)

  const tt = g.append("text").attr("x", box.x + box.w / 2).attr("y", box.y - 3)
    .attr("text-anchor", "middle").attr("font-family", SERIF).attr("font-size", TITLE_FS).attr("fill", TXT)
  if (p.psi) psiText(tt, "", " = " + p.psi)
  else tt.text(p.title)
}

function drawLegend(b, items) {
  svg.append("rect").attr("x", b.x).attr("y", b.y).attr("width", b.w).attr("height", b.h)
    .attr("rx", 1.5).attr("fill", "#fff").attr("stroke", "#dddddd").attr("stroke-width", 0.8)
  const cy = b.y + b.h / 2
  for (const it of items) {
    svg.append("line").attr("x1", it.x).attr("x2", it.x + 13).attr("y1", cy).attr("y2", cy)
      .attr("stroke", it.color).attr("stroke-opacity", 0.85).attr("stroke-width", 1)
      .attr("stroke-dasharray", it.dash ? "3,1.6" : null)
    svg.append("text").attr("x", it.x + 17).attr("y", cy + 2.1)
      .attr("font-family", SERIF).attr("font-size", 6.2).attr("fill", TXT).text(it.label)
  }
}

function supTitle(x, yb, text, psi) {
  const t = svg.append("text").attr("x", x).attr("y", yb).attr("text-anchor", "middle")
    .attr("font-family", SERIF).attr("font-size", 7.3).attr("fill", TXT)
  if (psi) psiText(t, text, " Values")
  else t.text(text)
}

// ---------- FIGURE BUILDER ----------
function figure(cfg) {
  supTitle(cfg.supX, cfg.supY, cfg.supText, true)
  supTitle(cfg.actX, cfg.supY, cfg.actText, false)
  cfg.profiles.forEach((d, i) => {
    const r = Math.floor(i / 3), c = i % 3
    drawPanel({x: cfg.lefts[c], y: cfg.rows[r], w: cfg.widths[c], h: cfg.h}, {
      data: d, tgt: cfg.targets[i], steps: cfg.steps, xd: cfg.xd, yd: cfg.yd[i], xt: cfg.xt,
      yt: cfg.yt[i], fmt: cfg.fmt[i], ylabel: cfg.ylabel, psi: psiValues[i]
    })
  })
  cfg.acts.forEach((d, i) => {
    const r = Math.floor(i / 2), c = i % 2
    drawPanel({x: cfg.aLefts[c], y: cfg.rows[r], w: cfg.aWidths[c], h: cfg.h}, {
      data: d, band: cfg.bands[i], xd: cfg.axd[c], yd: cfg.ayd[i], xt: cfg.xt,
      yt: cfg.ayt[i], fmt: cfg.afmt[i], ylabel: actUnits[i], title: actTitles[i]
    })
  })
  drawLegend(cfg.leg, [
    {x: cfg.leg.x + 3, color: "#0000ff", label: cfg.model},
    {x: cfg.legT, color: "#ff0000", dash: true, label: "Target"}
  ])
  drawLegend(cfg.aleg, [{x: cfg.aleg.x + 3, color: "#0000ff", label: "Actuator Value"}])
}

figure({
  supX: 244, actX: 635, supY: 194,
  supText: "Simulated Shot 176849 Dens Evolution at Selected ",
  actText: "Shot 176849 Actuation Signals",
  profiles: [aDens012, aDens021, aDens042, aDens061, aDens082, aDens091],
  targets: aTargets, steps: aSteps,
  lefts: [32, 192, 347], widths: [119, 119, 123], rows: [209.5, 313], h: 73,
  xd: [1280, 5060], xt: [2000, 3000, 4000, 5000],
  yd: [[4.80, 7.02], [5.08, 6.70], [5.34, 6.31], [4.81, 5.96], [4.15, 5.38], [3.72, 5.27]],
  yt: [[5.0, 5.5, 6.0, 6.5, 7.0], [5.5, 6.0, 6.5], [5.4, 5.6, 5.8, 6.0, 6.2], [5.0, 5.2, 5.4, 5.6, 5.8], [4.25, 4.5, 4.75, 5.0, 5.25], [4.0, 4.5, 5.0]],
  fmt: [".1f", ".1f", ".1f", ".1f", ".2f", ".1f"], ylabel: "Density",
  acts: [aPower, aTorque, aGas, aEch], bands: aBands,
  aLefts: [512, 672], aWidths: [119, 119], axd: [[1220, 5065], [1220, 5065]],
  ayd: [[2.44, 10.6], [1.82, 8.55], [-0.28, 10.07], [-0.22, 4.24]],
  ayt: [[4, 6, 8, 10], [2, 4, 6, 8], [0, 2, 4, 6, 8], [0, 1, 2, 3, 4]],
  afmt: ["d", "d", "d", "d"],
  leg: {x: 166, y: 406.5, w: 123, h: 11.5}, legT: 251, model: "COMBO Present",
  aleg: {x: 602, y: 406.5, w: 68, h: 11.5}
})

figure({
  supX: 246, actX: 640, supY: 464,
  supText: "Simulated Shot 190783 Temp Evolution at Selected ",
  actText: "Shot 190783 Actuation Signals",
  profiles: [bTemp012, bTemp021, bTemp042, bTemp061, bTemp082, bTemp091],
  targets: bTargets, steps: bSteps,
  lefts: [32, 193, 354], widths: [120, 120, 119], rows: [479.5, 584], h: 73,
  xd: [1190, 4620], xt: [2000, 3000, 4000],
  yd: [[2.385, 3.97], [2.0, 3.32], [1.147, 2.2], [0.743, 1.571], [0.54, 1.18], [0.35, 0.864]],
  yt: [[2.5, 3.0, 3.5], [2.25, 2.5, 2.75, 3.0, 3.25], [1.2, 1.4, 1.6, 1.8, 2.0], [0.8, 1.0, 1.2, 1.4], [0.6, 0.8, 1.0], [0.4, 0.5, 0.6, 0.7, 0.8]],
  fmt: [".1f", ".2f", ".1f", ".1f", ".1f", ".1f"], ylabel: "Temperature",
  acts: [bPower, bTorque, bGas, bEch], bands: bBands,
  aLefts: [516, 686], aWidths: [118, 110], axd: [[1228, 4575], [1453, 4590]],
  ayd: [[-0.39, 14.06], [-1.32, 9.56], [-0.05, 10.18], [-0.16, 4.91]],
  ayt: [[0, 2.5, 5, 7.5, 10, 12.5], [0, 2, 4, 6, 8], [0, 2, 4, 6, 8, 10], [0, 1, 2, 3, 4]],
  afmt: [".1f", "d", "d", "d"],
  leg: {x: 169.5, y: 679, w: 119, h: 11.5}, legT: 248, model: "MOPO Present",
  aleg: {x: 606, y: 679, w: 67.5, h: 11.5}
})

figure({
  supX: 251, actX: 639, supY: 736.5,
  supText: "Simulated Shot 171975 Pres_efit01 Evolution at Selected ",
  actText: "Shot 171975 Actuation Signals",
  profiles: [cPres012, cPres021, cPres042, cPres061, cPres082, cPres091],
  targets: cTargets, steps: cSteps,
  lefts: [41, 199, 356], widths: [117, 118, 120], rows: [751, 853.5], h: 72.5,
  xd: [1205, 4100], xt: [1500, 2000, 2500, 3000, 3500, 4000],
  yd: [[28830, 51900], [25830, 45930], [18820, 33160], [12510, 23690], [5530, 11350], [2750, 5955]],
  yt: [[30000, 35000, 40000, 45000, 50000], [30000, 35000, 40000, 45000], [20000, 22500, 25000, 27500, 30000, 32500], [14000, 16000, 18000, 20000, 22000], [6000, 7000, 8000, 9000, 10000, 11000], [3000, 4000, 5000]],
  fmt: ["d", "d", "d", "d", "d", "d"], ylabel: "Pressure",
  acts: [cPower, cTorque, cGas, cEch], bands: cBands,
  aLefts: [517, 674], aWidths: [117, 118], axd: [[1187, 4100], [1152, 4088]],
  ayd: [[0.96, 10.05], [-1.23, 9.41], [-0.02, 3.56], [-0.09, 3.97]],
  ayt: [[2, 4, 6, 8], [0, 2, 4, 6, 8], [0, 1, 2, 3], [0, 1, 2, 3]],
  afmt: ["d", "d", "d", "d"],
  leg: {x: 176, y: 947.5, w: 117, h: 11}, legT: 254, model: "MOPO Present",
  aleg: {x: 606, y: 947.5, w: 67, h: 11}
})
</script>
</body>
</html>
